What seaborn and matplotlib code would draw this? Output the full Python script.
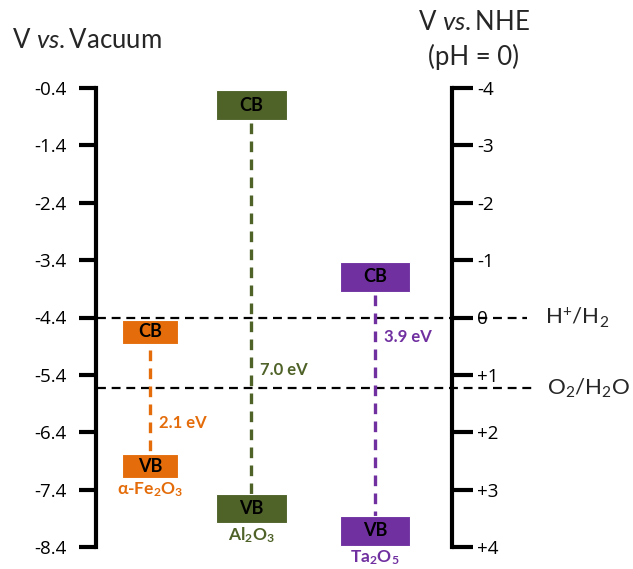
import matplotlib
matplotlib.use("Agg")
import matplotlib.pyplot as plt
import seaborn as sns
import pandas as pd

# Band-edge positions (V vs. vacuum) and band gaps
materials = ["α-Fe$_2$O$_3$", "Al$_2$O$_3$", "Ta$_2$O$_5$"]
cb_levels = [-4.65, -0.70, -3.69]
vb_levels = [-6.99, -7.73, -8.12]
band_gaps = [2.1, 7.0, 3.9]
colors = ["#E46C0A", "#4F6228", "#7030A0"]

# Horizontal layout of each material column and box size
x_pos = [150, 251, 375]
box_w = [56, 71, 70]
box_h = [0.42, 0.52, 0.52]
gap_label_y = [-6.24, -5.31, -4.74]

# Redox potentials (V vs. vacuum)
redox_names = ["H$^{+}$/H$_2$", "O$_2$/H$_2$O"]
redox_levels = [-4.40, -5.63]

vac_ticks = [-0.4, -1.4, -2.4, -3.4, -4.4, -5.4, -6.4, -7.4, -8.4]
nhe_ticks = [-4, -3, -2, -1, 0, 1, 2, 3, 4]
nhe_labels = ["-4", "-3", "-2", "-1", "0", "+1", "+2", "+3", "+4"]

sns.set_theme(style="white")
plt.rcParams["font.family"] = ["Lato", "DejaVu Sans"]
plt.rcParams["mathtext.fontset"] = "custom"
plt.rcParams["mathtext.rm"] = "Lato"
plt.rcParams["mathtext.it"] = "Lato:italic"
plt.rcParams["mathtext.bf"] = "Lato:bold"
plt.rcParams["mathtext.default"] = "regular"

W, H = 633, 569
fig = plt.figure(figsize=(W / 100, H / 100), dpi=100)
ax = fig.add_axes([0, (H - 547) / H, 1, (547 - 88) / H])
ax.set_xlim(0, W)
ax.set_ylim(-8.4, -0.4)

# Vertical connectors between CB and VB
rows = []
for m, xp, cb, vb in zip(materials, x_pos, cb_levels, vb_levels):
    rows.append({"material": m, "x": xp, "E": cb})
    rows.append({"material": m, "x": xp, "E": vb})
df = pd.DataFrame(rows)
sns.lineplot(data=df, x="x", y="E", hue="material", palette=colors,
             units="material", estimator=None, sort=False, orient="y",
             lw=2.4, ax=ax, legend=False, zorder=2)
for ln in ax.lines:
    ln.set_dashes((3.2, 2.2))

# Redox reference lines
for name, lev, xe, tx in zip(redox_names, redox_levels, [527, 535], [545, 547]):
    ax.plot([97, xe], [lev, lev], color="black", lw=1.6,
            dashes=(4, 2.6), zorder=1)
    ax.text(tx, lev, name, fontsize=16, va="center", ha="left")

# CB / VB boxes
for xp, w, h, cb, vb, c in zip(x_pos, box_w, box_h, cb_levels, vb_levels, colors):
    ax.bar([xp, xp], [h, h], bottom=[cb - h / 2, vb - h / 2], width=w,
           color=c, edgecolor="white", linewidth=0.8, zorder=3, clip_on=False)
    ax.text(xp, cb, "CB", ha="center", va="center", fontsize=13,
            fontweight="bold", color="black", zorder=4)
    ax.text(xp, vb, "VB", ha="center", va="center", fontsize=13,
            fontweight="bold", color="black", zorder=4)

# Band-gap labels and material names
for m, xp, h, vb, g, gy, c in zip(materials, x_pos, box_h, vb_levels,
                                  band_gaps, gap_label_y, colors):
    ax.text(xp + 9, gy, f"{g:.1f} eV", ha="left", va="center", fontsize=12,
            fontweight="bold", color=c)
    ax.annotate(m, (xp, vb - h / 2), xytext=(0, -1.5), textcoords="offset points",
                ha="center", va="top", fontsize=12.5, fontweight="bold",
                color=c, annotation_clip=False)

# Left axis: V vs. vacuum
for s in ["top", "right", "bottom"]:
    ax.spines[s].set_visible(False)
ax.spines["left"].set_position(("data", 96))
ax.spines["left"].set_linewidth(3)
ax.spines["left"].set_color("black")
ax.set_xticks([])
ax.set_yticks(vac_ticks)
ax.set_yticklabels([f"{v:.1f}" for v in vac_ticks])
ax.tick_params(axis="y", direction="out", length=12, width=3, pad=9,
               labelsize=13.5, colors="black", left=True)
for t in ax.get_yticklabels():
    t.set_fontfamily(["Open Sans", "DejaVu Sans"])
ax.set_ylabel("")
ax.set_xlabel("")

# Right axis: V vs. NHE (pH = 0)
ax2 = ax.twinx()
ax2.set_ylim(4, -4)
for s in ["top", "left", "bottom"]:
    ax2.spines[s].set_visible(False)
ax2.spines["right"].set_position(("data", 452))
ax2.spines["right"].set_linewidth(3)
ax2.spines["right"].set_color("black")
ax2.set_yticks(nhe_ticks)
ax2.set_yticklabels(nhe_labels)
ax2.tick_params(axis="y", direction="out", length=15, width=3, pad=3,
                labelsize=13.5, colors="black", right=True)
for t in ax2.get_yticklabels():
    t.set_fontfamily(["Open Sans", "DejaVu Sans"])
ax2.grid(False)
ax.grid(False)

fig.text(12 / W, 1 - 40 / H, r"V $\mathit{vs.}$Vacuum", fontsize=18.5,
         ha="left", va="center")
fig.text(474 / W, 1 - 23 / H, r"V $\mathit{vs.}$NHE", fontsize=18.5,
         ha="center", va="center")
fig.text(474 / W, 1 - 57 / H, "(pH = 0)", fontsize=18.5,
         ha="center", va="center")

fig.savefig("out.png", dpi=100)
